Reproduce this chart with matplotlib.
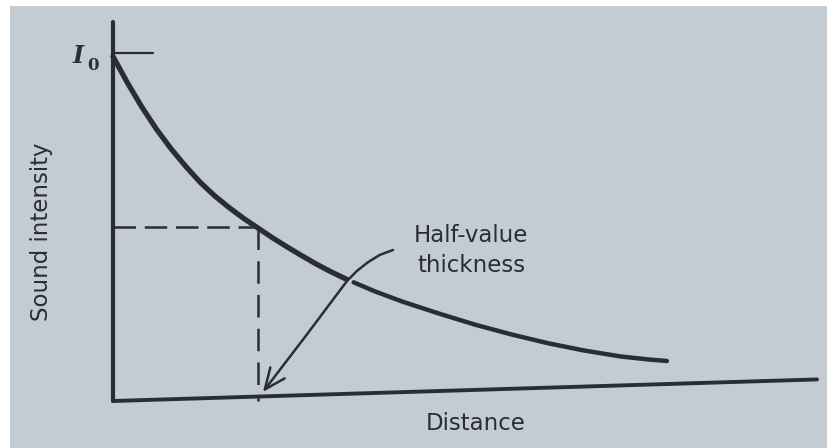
import matplotlib
matplotlib.use("Agg")
import matplotlib.pyplot as plt
from matplotlib.patches import Rectangle

# ---- data: intensity (fraction of I0) vs distance (in half-value thicknesses) ----
# decay curve, split where the pointer arrow crosses it
dist_a = [0.00, 0.10, 0.20, 0.30, 0.40, 0.50, 0.60, 0.70, 0.80, 0.90, 1.00,
          1.10, 1.20, 1.30, 1.40, 1.50, 1.61]
inten_a = [0.990, 0.914, 0.844, 0.781, 0.725, 0.675, 0.629, 0.590, 0.556, 0.525, 0.497,
           0.469, 0.443, 0.418, 0.394, 0.372, 0.350]
dist_b = [1.66, 1.80, 2.00, 2.25, 2.50, 2.75, 3.00, 3.25, 3.50, 3.70, 3.82]
inten_b = [0.341, 0.316, 0.285, 0.251, 0.219, 0.191, 0.166, 0.145, 0.128, 0.119, 0.115]

half_value = 1.0      # half-value thickness
half_level = 0.5      # I0 / 2

# pointer from the label down to the half-value thickness on the axis
arrow_x = [1.931, 1.841, 1.759, 1.683, 1.614, 1.324, 1.034]
arrow_y = [0.434, 0.420, 0.399, 0.374, 0.345, 0.184, 0.026]

# axis extents
y_axis_top = 1.09
x_axis_end = 4.855
x_axis_rise = 0.062   # the page is photographed a little skewed

ink = "#2a2d33"
page = "#c4ccd3"

fig = plt.figure(figsize=(8.27, 4.48), dpi=100, facecolor="white")
fig.patches.append(Rectangle((10 / 827, 0), 1, 1 - 6 / 448, transform=fig.transFigure,
                             facecolor=page, edgecolor="none", zorder=-10))

ax = fig.add_axes([113 / 827, 47 / 448, 704 / 827, 348 / 448])
ax.set_xlim(0, x_axis_end)
ax.set_ylim(0, 1)
ax.axis("off")

kw = dict(color=ink, clip_on=False, solid_capstyle="round", solid_joinstyle="round")

# axes
ax.plot([0, 0], [0, y_axis_top], lw=3.0, **kw)
ax.plot([0, x_axis_end], [0, x_axis_rise], lw=2.8, **kw)
ax.plot([0, 0.276], [1.0, 1.0], lw=1.6, **kw)

# decay curve
ax.plot(dist_a, inten_a, lw=3.8, **kw)
ax.plot(dist_b, inten_b, lw=3.2, **kw)

# half-value construction lines
ax.plot([0, half_value], [half_level, half_level], lw=1.8, color=ink,
        dashes=(9, 3.5), clip_on=False)
ax.plot([half_value, half_value], [half_level, 0], lw=1.8, color=ink,
        dashes=(9, 4.5), clip_on=False)

# pointer arrow
ax.plot(arrow_x[:-1], arrow_y[:-1], lw=1.8, **kw)
ax.annotate("", xy=(arrow_x[-1], arrow_y[-1]), xytext=(arrow_x[-2], arrow_y[-2]),
            arrowprops=dict(arrowstyle="->,head_length=1.5,head_width=0.65",
                            lw=1.8, color=ink, shrinkA=0, shrinkB=0),
            annotation_clip=False)

# labels
txt = dict(color=ink, family="DejaVu Sans", fontsize=16.5, clip_on=False)
ax.text(2.469, 0.457, "Half-value", ha="center", va="baseline", **txt)
ax.text(2.469, 0.371, "thickness", ha="center", va="baseline", **txt)
ax.text(2.503, -0.083, "Distance", ha="center", va="baseline", **txt)
ax.text(-0.49, 0.486, "Sound intensity", ha="center", va="center", rotation=90, **txt)

ax.text(-0.241, 0.971, "I", ha="center", va="baseline", color=ink,
        family="DejaVu Serif", style="italic", fontweight="bold", fontsize=17)
ax.text(-0.138, 0.951, "0", ha="center", va="baseline", color=ink,
        family="DejaVu Serif", fontweight="bold", fontsize=12)

fig.savefig("out.png", dpi=100, facecolor="white")
